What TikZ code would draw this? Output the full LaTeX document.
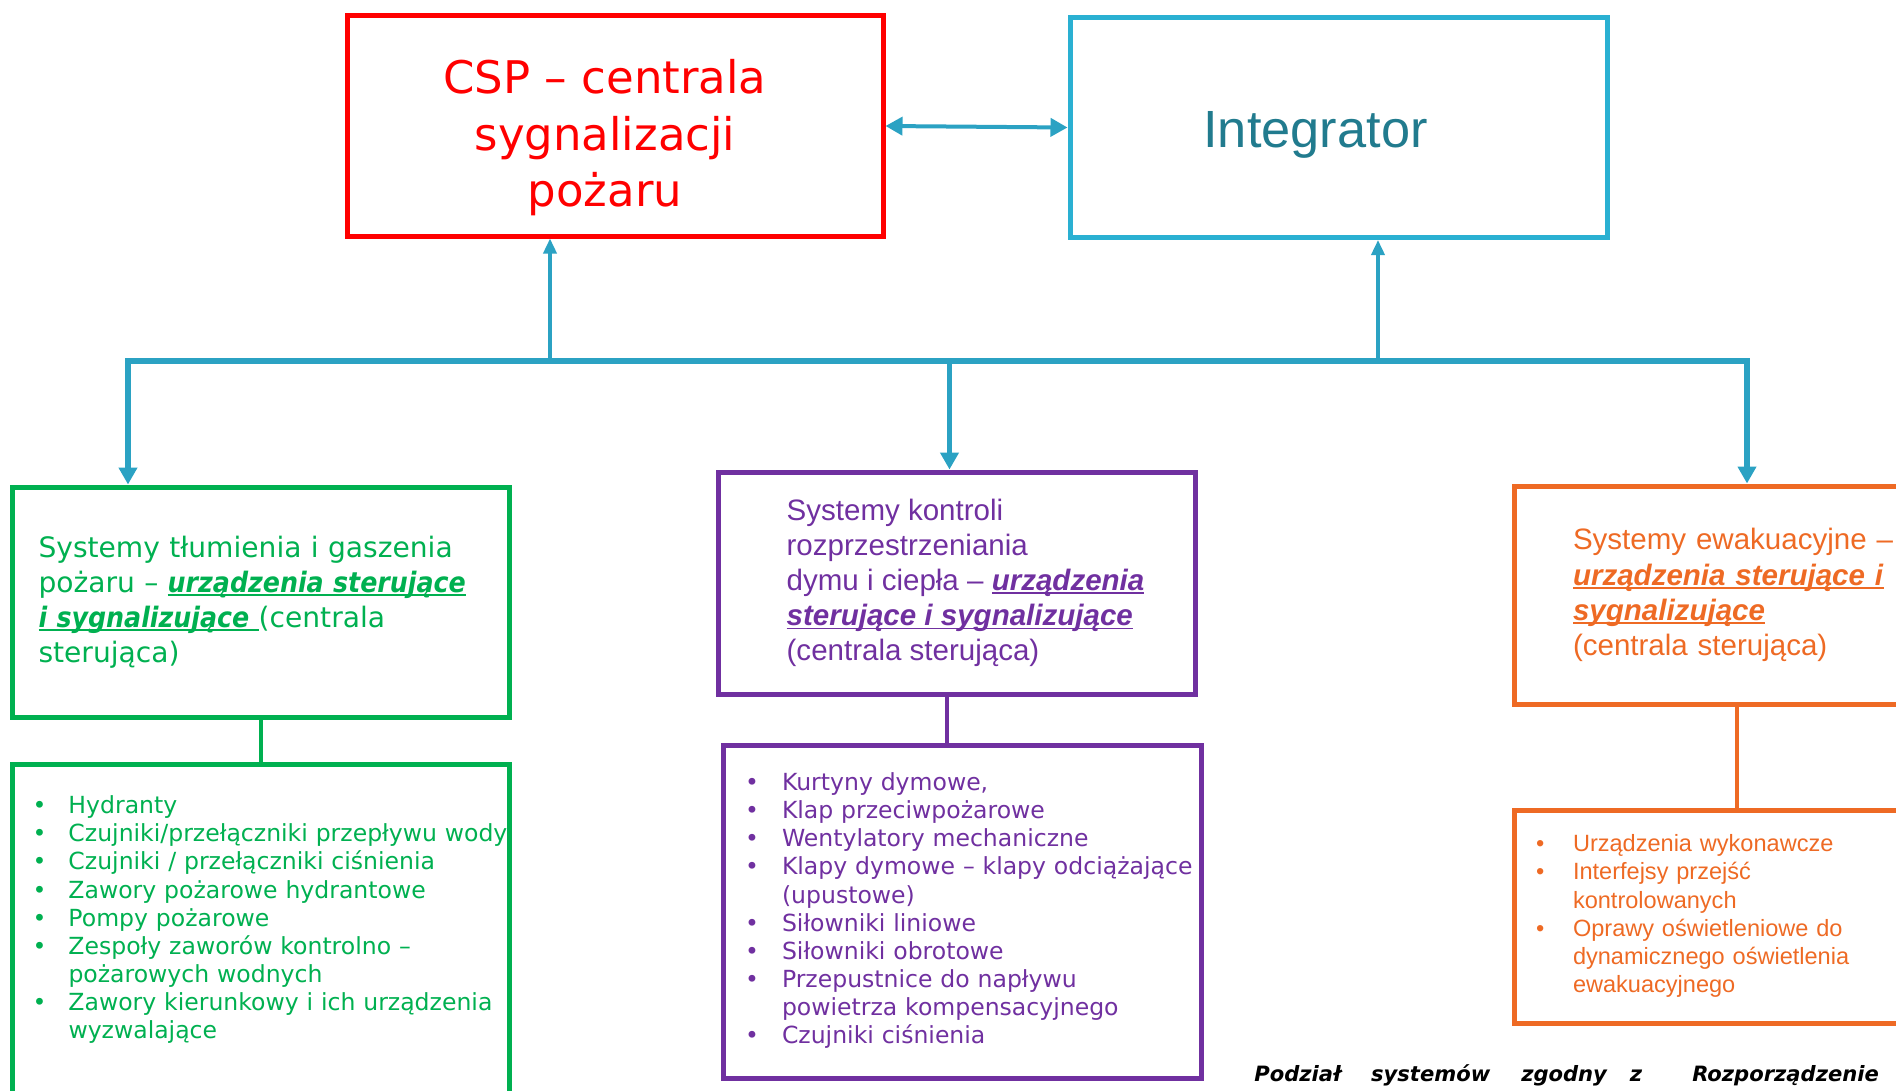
\documentclass[tikz,border=0pt]{standalone}
\usepackage{fontspec}
\setmainfont{DejaVu Sans}
\newfontfamily\arialfont{Liberation Sans}
\newfontfamily\narrowfont[FakeStretch=0.9]{DejaVu Sans}
\usetikzlibrary{arrows.meta,positioning}
\definecolor{cspred}{RGB}{255,0,0}
\definecolor{intblue}{RGB}{42,176,210}
\definecolor{inttext}{RGB}{33,123,142}
\definecolor{linkblue}{RGB}{43,162,195}
\definecolor{firegreen}{RGB}{0,176,80}
\definecolor{smokepurple}{RGB}{112,48,160}
\definecolor{evacorange}{RGB}{238,106,36}
\newsavebox{\ulbox}
\newcommand{\ulbi}[1]{\leavevmode\sbox{\ulbox}{\textbf{\textit{#1}}}\rlap{\rule[-1pt]{\wd\ulbox}{0.5pt}}\usebox{\ulbox}}

\begin{document}
\begin{tikzpicture}[
    node distance=0.42cm,
    topbox/.style={rectangle, draw, line width=0.05cm, minimum width=5.36cm, minimum height=2.2cm, align=center},
    sysbox/.style={rectangle, draw, line width=0.05cm, align=left, inner ysep=0pt},
    bus/.style={draw=linkblue, line width=0.055cm},
    feed/.style={draw=linkblue, line width=0.035cm, -{Triangle[width=0.13cm,length=0.15cm]}},
    link/.style={line width=0.04cm}
]
\useasboundingbox (0,0) rectangle (18.96,10.90);
\clip (0,0) rectangle (18.96,10.90);

\node[topbox, draw=cspred, text=cspred, font=\fontsize{12.8}{16}\selectfont] (csp) at (6.15,9.64) {\begin{tabular}{@{}c@{\hspace{0.2cm}}}
\rule{0pt}{18.5pt}CSP – centrala\\
sygnalizacji\\
pożaru
\end{tabular}};
\node[topbox, draw=intblue, text=inttext, minimum width=5.37cm, font=\arialfont\fontsize{14.9}{18}\selectfont] (int) at (13.385,9.625) {\rule{0pt}{14.7pt}Integrator\hspace{0.46cm}};

\node[sysbox, draw=firegreen, text=firegreen, text width=4.45cm, inner xsep=0.255cm, minimum height=2.3cm, font=\fontsize{8}{10}\selectfont] (fire) at (2.61,4.88) {Systemy tłumienia i gaszenia\\pożaru – \ulbi{\narrowfont urządzenia sterujące}\\\ulbi{\narrowfont i sygnalizujące }(centrala\\sterująca)};
\node[sysbox, draw=smokepurple, text=smokepurple, minimum width=4.77cm, minimum height=2.22cm, font=\arialfont\fontsize{8.4}{10}\selectfont] (smoke) at (9.565,5.07) {\hspace*{0.18cm}Systemy kontroli\\\hspace*{0.18cm}rozprzestrzeniania\\\hspace*{0.18cm}dymu i ciepła – \ulbi{urządzenia}\\\hspace*{0.18cm}\ulbi{sterujące i sygnalizujące}\\\hspace*{0.18cm}(centrala sterująca)};
\node[sysbox, draw=evacorange, text=evacorange, text width=3.28cm, inner xsep=0.59cm, minimum height=2.18cm, font=\arialfont\fontsize{8.4}{10}\selectfont] (evac) at (17.37,4.95) {Systemy ewakuacyjne –\\\ulbi{urządzenia sterujące i}\\\ulbi{sygnalizujące}\\(centrala sterująca)};

\node[sysbox, draw=firegreen, text=firegreen, text width=4.57cm, inner xsep=0.2cm, inner ysep=0.3cm, below=0.42cm of fire, font=\fontsize{6.7}{8}\selectfont] (firelist) {\begin{tabular}{@{}p{0.36cm}@{}l@{}}
\textbullet & Hydranty\\
\textbullet & Czujniki/przełączniki przepływu wody\\
\textbullet & Czujniki / przełączniki ciśnienia\\
\textbullet & Zawory pożarowe hydrantowe\\
\textbullet & Pompy pożarowe\\
\textbullet & Zespoły zaworów kontrolno –\\
 & pożarowych wodnych\\
\textbullet & Zawory kierunkowy i ich urządzenia\\
 & wyzwalające\\[0.3cm]
\end{tabular}};
\node[sysbox, draw=smokepurple, text=smokepurple, text width=4.34cm, inner xsep=0.22cm, minimum height=3.33cm, below=0.46cm of smoke, xshift=0.055cm, font=\fontsize{6.7}{8}\selectfont] (smokelist) {\begin{tabular}{@{}p{0.37cm}@{}l@{}}
\textbullet & Kurtyny dymowe,\\
\textbullet & Klap przeciwpożarowe\\
\textbullet & Wentylatory mechaniczne\\
\textbullet & Klapy dymowe – klapy odciążające\\
 & (upustowe)\\
\textbullet & Siłowniki liniowe\\
\textbullet & Siłowniki obrotowe\\
\textbullet & Przepustnice do napływu\\
 & powietrza kompensacyjnego\\
\textbullet & Czujniki ciśnienia
\end{tabular}};
\node[sysbox, draw=evacorange, text=evacorange, text width=4.02cm, inner xsep=0.22cm, minimum height=2.13cm, below=1.01cm of evac, font=\arialfont\fontsize{6.7}{8}\selectfont] (evaclist) {\begin{tabular}{@{}p{0.37cm}@{}l@{}}
\textbullet & Urządzenia wykonawcze\\
\textbullet & Interfejsy przejść\\
 & kontrolowanych\\
\textbullet & Oprawy oświetleniowe do\\
 & dynamicznego oświetlenia\\
 & ewakuacyjnego
\end{tabular}};

\node[anchor=base west, font=\bfseries\itshape\fontsize{6}{7}\selectfont] (note) at (12.42,0.09) {Podział\hspace{0.3cm}systemów\hspace{0.31cm}zgodny\hspace{0.23cm}z\hspace{0.5cm}Rozporządzenie};

% bus between the centrals and the systems
\coordinate (busL) at (1.28,7.29);
\coordinate (busR) at (17.47,7.29);
\draw[bus, {Triangle[width=0.18cm,length=0.17cm]}-{Triangle[width=0.18cm,length=0.17cm]}] (busL |- fire.north) -- (busL) -- (busR) -- (busR |- evac.north);
\draw[bus, -{Triangle[width=0.18cm,length=0.17cm]}] ([xshift=-0.07cm]smoke.north |- busL) -- ([xshift=-0.07cm]smoke.north);
\draw[feed] ([xshift=-0.65cm]csp.south |- busL) -- ([xshift=-0.65cm]csp.south);
\draw[feed] ([xshift=0.395cm]int.south |- busL) -- ([xshift=0.395cm]int.south);
\draw[feed, line width=0.04cm, {Triangle[width=0.18cm,length=0.17cm]}-{Triangle[width=0.18cm,length=0.17cm]}] (csp.east) -- (int.west);

\draw[firegreen, link] (fire.south) -- (firelist.north);
\draw[smokepurple, link] ([xshift=-0.1cm]smoke.south) -- ([xshift=-0.1cm]smoke.south |- smokelist.north);
\draw[evacorange, link] (evac.south) -- (evaclist.north);
\end{tikzpicture}
\end{document}
